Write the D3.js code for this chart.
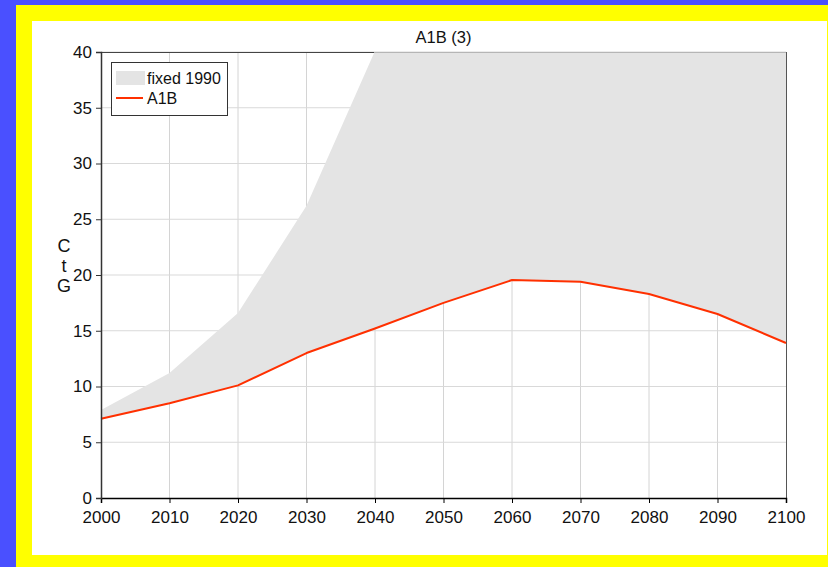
<!DOCTYPE html>
<html>
<head>
<meta charset="utf-8">
<script src="https://cdn.jsdelivr.net/npm/d3@7"></script>
<style>
  html, body { margin: 0; padding: 0; background: #4a50ff; }
  svg { display: block; font-family: "Liberation Sans", Arial, sans-serif; }
</style>
</head>
<body>
<div id="chart"></div>
<script>
const years = [2000, 2010, 2020, 2030, 2040, 2050, 2060, 2070, 2080, 2090, 2100];
const a1b = [7.1, 8.5, 10.1, 13.0, 15.2, 17.5, 19.55, 19.4, 18.3, 16.5, 13.9];
const fixed1990 = [7.9, 11.2, 16.6, 26.2, 40.1, 48, 56, 63, 70, 76, 82];
const yTicks = [0, 5, 10, 15, 20, 25, 30, 35, 40];
const title = "A1B (3)";
const yLabel = ["C", "t", "G"];
const legendItems = ["fixed 1990", "A1B"];

const W = 828, H = 567;
const m = { left: 101, right: 786, top: 52, bottom: 498 };

const svg = d3.select("#chart").append("svg")
  .attr("width", W).attr("height", H);

// frame
svg.append("rect").attr("x", 0).attr("y", 0).attr("width", W).attr("height", H).attr("fill", "#4a50ff");
svg.append("rect").attr("x", 16).attr("y", 5).attr("width", W - 16).attr("height", H - 5).attr("fill", "#ffff00");
svg.append("rect").attr("x", 32).attr("y", 21).attr("width", W - 33).attr("height", 534).attr("fill", "#fff");

const x = d3.scaleLinear().domain([2000, 2100]).range([m.left, m.right]);
const y = d3.scaleLinear().domain([0, 40]).range([m.bottom, m.top]);

// grid
svg.append("g").selectAll("line").data(years.slice(1, -1)).join("line")
  .attr("x1", d => x(d)).attr("x2", d => x(d))
  .attr("y1", m.top).attr("y2", m.bottom)
  .attr("stroke", "#d4d4d4").attr("stroke-width", 1);
svg.append("g").selectAll("line").data(yTicks.slice(1)).join("line")
  .attr("x1", m.left).attr("x2", m.right)
  .attr("y1", d => y(d)).attr("y2", d => y(d))
  .attr("stroke", "#d9d9d9").attr("stroke-width", 1);

// top border
svg.append("line").attr("x1", m.left).attr("x2", m.right)
  .attr("y1", m.top + 0.5).attr("y2", m.top + 0.5).attr("stroke", "#444");

svg.append("clipPath").attr("id", "plot").append("rect")
  .attr("x", m.left).attr("y", m.top)
  .attr("width", m.right - m.left).attr("height", m.bottom - m.top);

const rows = years.map((yr, i) => ({ yr, lo: a1b[i], hi: fixed1990[i] }));

svg.append("path").datum(rows)
  .attr("clip-path", "url(#plot)")
  .attr("fill", "#e4e4e4")
  .attr("d", d3.area().x(d => x(d.yr)).y0(d => y(d.lo)).y1(d => y(d.hi)));

// light edge where the shade meets the top
svg.append("line").attr("clip-path", "url(#plot)")
  .attr("x1", x(2040)).attr("x2", m.right)
  .attr("y1", m.top + 0.5).attr("y2", m.top + 0.5).attr("stroke", "#b5b5b5");

svg.append("line").attr("x1", m.right + 0.5).attr("x2", m.right + 0.5)
  .attr("y1", m.top).attr("y2", m.bottom).attr("stroke", "#555");

svg.append("path").datum(rows)
  .attr("fill", "none").attr("stroke", "#ff3000").attr("stroke-width", 2)
  .attr("stroke-linejoin", "round")
  .attr("d", d3.line().x(d => x(d.yr)).y(d => y(d.lo)));

// axes
const xAxis = svg.append("g")
  .attr("transform", `translate(0,${m.bottom})`)
  .call(d3.axisBottom(x).tickValues(years).tickFormat(d3.format("d")).tickSizeOuter(0).tickSize(5).tickPadding(8));
xAxis.select(".domain").attr("stroke", "#000").attr("stroke-width", 1.5);
xAxis.selectAll(".tick line").attr("stroke", "#000");
xAxis.selectAll("text").attr("font-size", 17).attr("fill", "#111")
  .attr("font-family", "Liberation Sans, Arial, sans-serif");

const yAxis = svg.append("g")
  .attr("transform", `translate(${m.left},0)`)
  .call(d3.axisLeft(y).tickValues(yTicks).tickSizeOuter(0).tickSize(5).tickPadding(4));
yAxis.select(".domain").attr("stroke", "#333").attr("stroke-width", 1.5);
yAxis.selectAll(".tick line").attr("stroke", "#333");
yAxis.selectAll("text").attr("font-size", 17).attr("fill", "#111")
  .attr("font-family", "Liberation Sans, Arial, sans-serif");

// title
svg.append("text").attr("x", (m.left + m.right) / 2).attr("y", 43)
  .attr("text-anchor", "middle").attr("font-size", 16.5).attr("fill", "#111").text(title);

// y label stacked
svg.append("g").selectAll("text").data(yLabel).join("text")
  .attr("x", 64).attr("y", (d, i) => 252 + i * 20)
  .attr("text-anchor", "middle").attr("font-size", 18).attr("fill", "#111")
  .text(d => d);

// legend
const lg = svg.append("g");
lg.append("rect").attr("x", 111.5).attr("y", 62.5).attr("width", 116).attr("height", 53)
  .attr("fill", "#fff").attr("stroke", "#333").attr("stroke-width", 1);
lg.append("rect").attr("x", 116).attr("y", 71).attr("width", 29).attr("height", 14).attr("fill", "#e4e4e4");
lg.append("line").attr("x1", 116).attr("x2", 143).attr("y1", 98).attr("y2", 98)
  .attr("stroke", "#ff3000").attr("stroke-width", 2);
lg.selectAll("text.item").data(legendItems).join("text")
  .attr("class", "item")
  .attr("x", 147).attr("y", (d, i) => 84 + i * 20)
  .attr("font-size", 16).attr("fill", "#111").text(d => d);
</script>
</body>
</html>
